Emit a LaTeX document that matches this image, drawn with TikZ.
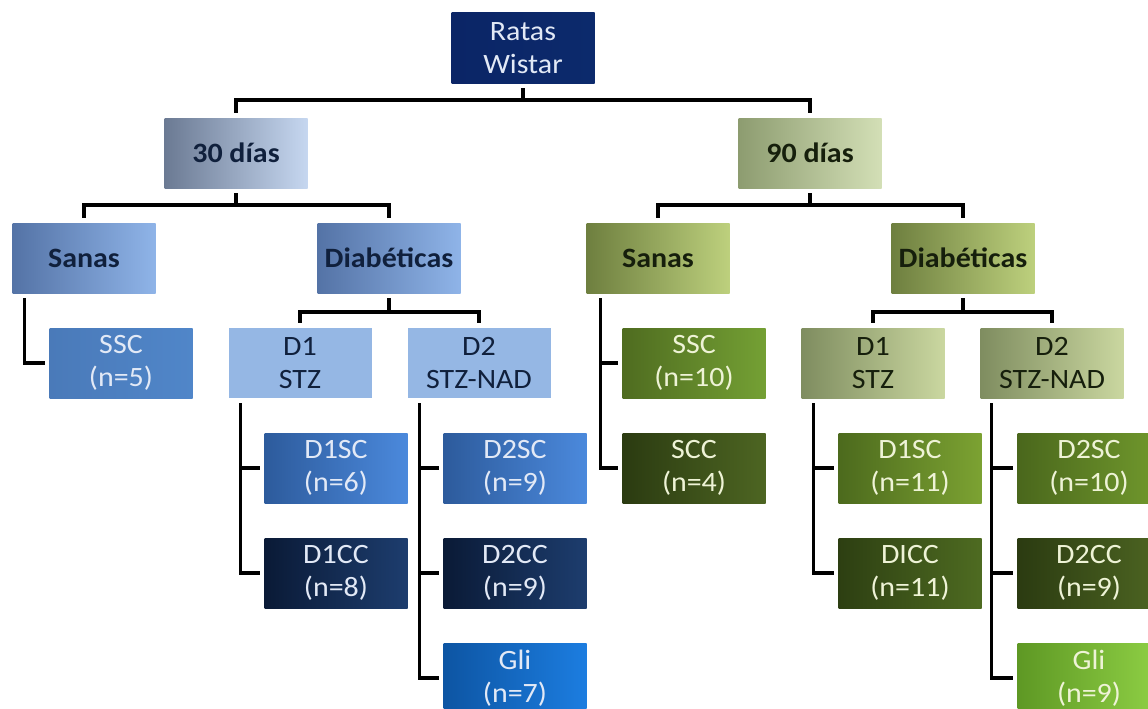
\documentclass[tikz,border=0pt]{standalone}
\usepackage{fontspec}
\setmainfont[FakeStretch=1.07]{Carlito}
% blue side
\definecolor{rootc}{HTML}{0C2A6C}
\definecolor{rootd}{HTML}{0B2566}
\definecolor{bTxtW}{HTML}{E2E9F6}
\definecolor{bTxtD}{HTML}{10203C}
\definecolor{bA1}{HTML}{6B7A93}\definecolor{bA2}{HTML}{C6D7F0}
\definecolor{bB1}{HTML}{5473A6}\definecolor{bB2}{HTML}{8FB4E8}
\definecolor{bC1}{HTML}{4A7AB9}\definecolor{bC2}{HTML}{5086C9}
\definecolor{bD}{HTML}{95B7E4}
\definecolor{bE1}{HTML}{2D5B9C}\definecolor{bE2}{HTML}{4B89DC}
\definecolor{bF1}{HTML}{0A1A36}\definecolor{bF2}{HTML}{1D3D6E}
\definecolor{bG1}{HTML}{0D55A3}\definecolor{bG2}{HTML}{1C7DE0}
% green side
\definecolor{gTxtW}{HTML}{EEF3D6}
\definecolor{gTxtD}{HTML}{161F0C}
\definecolor{gA1}{HTML}{8D9C70}\definecolor{gA2}{HTML}{D3DFB6}
\definecolor{gB1}{HTML}{6E7F3F}\definecolor{gB2}{HTML}{BDD07D}
\definecolor{gC1}{HTML}{4F6C20}\definecolor{gC2}{HTML}{74A034}
\definecolor{gS1}{HTML}{2B3B11}\definecolor{gS2}{HTML}{4D6522}
\definecolor{gD1}{HTML}{7F8D60}\definecolor{gD2}{HTML}{CAD7A0}
\definecolor{gE1}{HTML}{4C6A1D}\definecolor{gE2}{HTML}{7CA232}
\definecolor{gF1}{HTML}{2D3F12}\definecolor{gF2}{HTML}{4E6B21}
\definecolor{gH1}{HTML}{4A671C}\definecolor{gH2}{HTML}{71992D}
\definecolor{gG1}{HTML}{5E9824}\definecolor{gG2}{HTML}{8FD045}
\begin{document}
\begin{tikzpicture}[x=1pt,y=-1pt,
  box/.style={rectangle, minimum width=143pt, minimum height=70pt, inner sep=0pt,
    align=center, font=\fontsize{28}{33}\selectfont},
  boldbox/.style={box, font=\fontsize{28}{33}\selectfont\bfseries},
  grad/.style 2 args={left color=#1, right color=#2},
  conn/.style={line width=3.5pt, black, line join=miter},
  cstart/.style={shorten <=5pt},
  cend/.style={shorten >=5pt},
  cbranch/.style={shorten >=4pt}]
\useasboundingbox (0,0) rectangle (1148,709);

% ---- nodes ----
\node[box, grad={rootd}{rootc}, text=bTxtW] (root) at (523,48) {Ratas\\Wistar};

\node[boldbox, grad={bA1}{bA2}, text=bTxtD] (d30) at (236,153) {30 días};
\node[boldbox, grad={gA1}{gA2}, text=gTxtD] (d90) at (810,153) {90 días};

\node[boldbox, grad={bB1}{bB2}, text=bTxtD] (s30) at (84,258) {Sanas};
\node[boldbox, grad={bB1}{bB2}, text=bTxtD] (db30) at (389,258) {Diabéticas};
\node[boldbox, grad={gB1}{gB2}, text=gTxtD] (s90) at (658,258) {Sanas};
\node[boldbox, grad={gB1}{gB2}, text=gTxtD] (db90) at (963,258) {Diabéticas};

\node[box, grad={bC1}{bC2}, text=bTxtW] (ssc30) at (121,363) {SSC\\(n=5)};
\node[box, fill=bD, text=bTxtD] (da30) at (300,363) {D1\\STZ};
\node[box, fill=bD, text=bTxtD] (dn30) at (479,363) {D2\\STZ-NAD};
\node[box, grad={gC1}{gC2}, text=gTxtW] (ssc90) at (694,363) {SSC\\(n=10)};
\node[box, grad={gD1}{gD2}, text=gTxtD] (da90) at (873,363) {D1\\STZ};
\node[box, grad={gD1}{gD2}, text=gTxtD] (dn90) at (1052,363) {D2\\STZ-NAD};

\node[box, grad={bE1}{bE2}, text=bTxtW] (d1sc30) at (336,468) {D1SC\\(n=6)};
\node[box, grad={bE1}{bE2}, text=bTxtW] (d2sc30) at (515,468) {D2SC\\(n=9)};
\node[box, grad={gS1}{gS2}, text=gTxtW] (scc90) at (694,468) {SCC\\(n=4)};
\node[box, grad={gE1}{gE2}, text=gTxtW] (d1sc90) at (910,468) {D1SC\\(n=11)};
\node[box, grad={gH1}{gH2}, text=gTxtW] (d2sc90) at (1089,468) {D2SC\\(n=10)};

\node[box, grad={bF1}{bF2}, text=bTxtW] (d1cc30) at (336,573) {D1CC\\(n=8)};
\node[box, grad={bF1}{bF2}, text=bTxtW] (d2cc30) at (515,573) {D2CC\\(n=9)};
\node[box, grad={gF1}{gF2}, text=gTxtW] (d1cc90) at (910,573) {DICC\\(n=11)};
\node[box, grad={gS1}{gS2}, text=gTxtW] (d2cc90) at (1089,573) {D2CC\\(n=9)};

\node[box, grad={bG1}{bG2}, text=bTxtW] (gli30) at (515,678) {Gli\\(n=7)};
\node[box, grad={gG1}{gG2}, text=gTxtW] (gli90) at (1089,678) {Gli\\(n=9)};

% ---- bus connectors ----
\draw[conn, cstart, cend] (root.south) -- ++(0,17) -| (d30.north);
\draw[conn, cstart, cend] (root.south) -- ++(0,17) -| (d90.north);
\draw[conn, cstart, cend] (d30.south) -- ++(0,17) -| (s30.north);
\draw[conn, cstart, cend] (d30.south) -- ++(0,17) -| (db30.north);
\draw[conn, cstart, cend] (d90.south) -- ++(0,17) -| (s90.north);
\draw[conn, cstart, cend] (d90.south) -- ++(0,17) -| (db90.north);
\draw[conn, cstart, cend] (db30.south) -- ++(0,19) -| (da30.north);
\draw[conn, cstart, cend] (db30.south) -- ++(0,19) -| (dn30.north);
\draw[conn, cstart, cend] (db90.south) -- ++(0,19) -| (da90.north);
\draw[conn, cstart, cend] (db90.south) -- ++(0,19) -| (dn90.north);

% ---- side connectors ----
\coordinate (vs30) at ([xshift=12pt]s30.south west);
\coordinate (va30) at ([xshift=12pt]da30.south west);
\coordinate (vn30) at ([xshift=12pt]dn30.south west);
\coordinate (vs90) at ([xshift=14pt]s90.south west);
\coordinate (va90) at ([xshift=12pt]da90.south west);
\coordinate (vn90) at ([xshift=11pt]dn90.south west);

\draw[conn, cstart, cbranch] (vs30) |- (ssc30.west);

\draw[conn, cstart, cbranch] (va30) |- (d1cc30.west);
\draw[conn, cbranch] (va30 |- d1sc30.west) -- (d1sc30.west);

\draw[conn, cstart, cbranch] (vn30) |- (gli30.west);
\draw[conn, cbranch] (vn30 |- d2sc30.west) -- (d2sc30.west);
\draw[conn, cbranch] (vn30 |- d2cc30.west) -- (d2cc30.west);

\draw[conn, cstart, cbranch] (vs90) |- (scc90.west);
\draw[conn, cbranch] (vs90 |- ssc90.west) -- (ssc90.west);

\draw[conn, cstart, cbranch] (va90) |- (d1cc90.west);
\draw[conn, cbranch] (va90 |- d1sc90.west) -- (d1sc90.west);

\draw[conn, cstart, cbranch] (vn90) |- (gli90.west);
\draw[conn, cbranch] (vn90 |- d2sc90.west) -- (d2sc90.west);
\draw[conn, cbranch] (vn90 |- d2cc90.west) -- (d2cc90.west);
\end{tikzpicture}
\end{document}
